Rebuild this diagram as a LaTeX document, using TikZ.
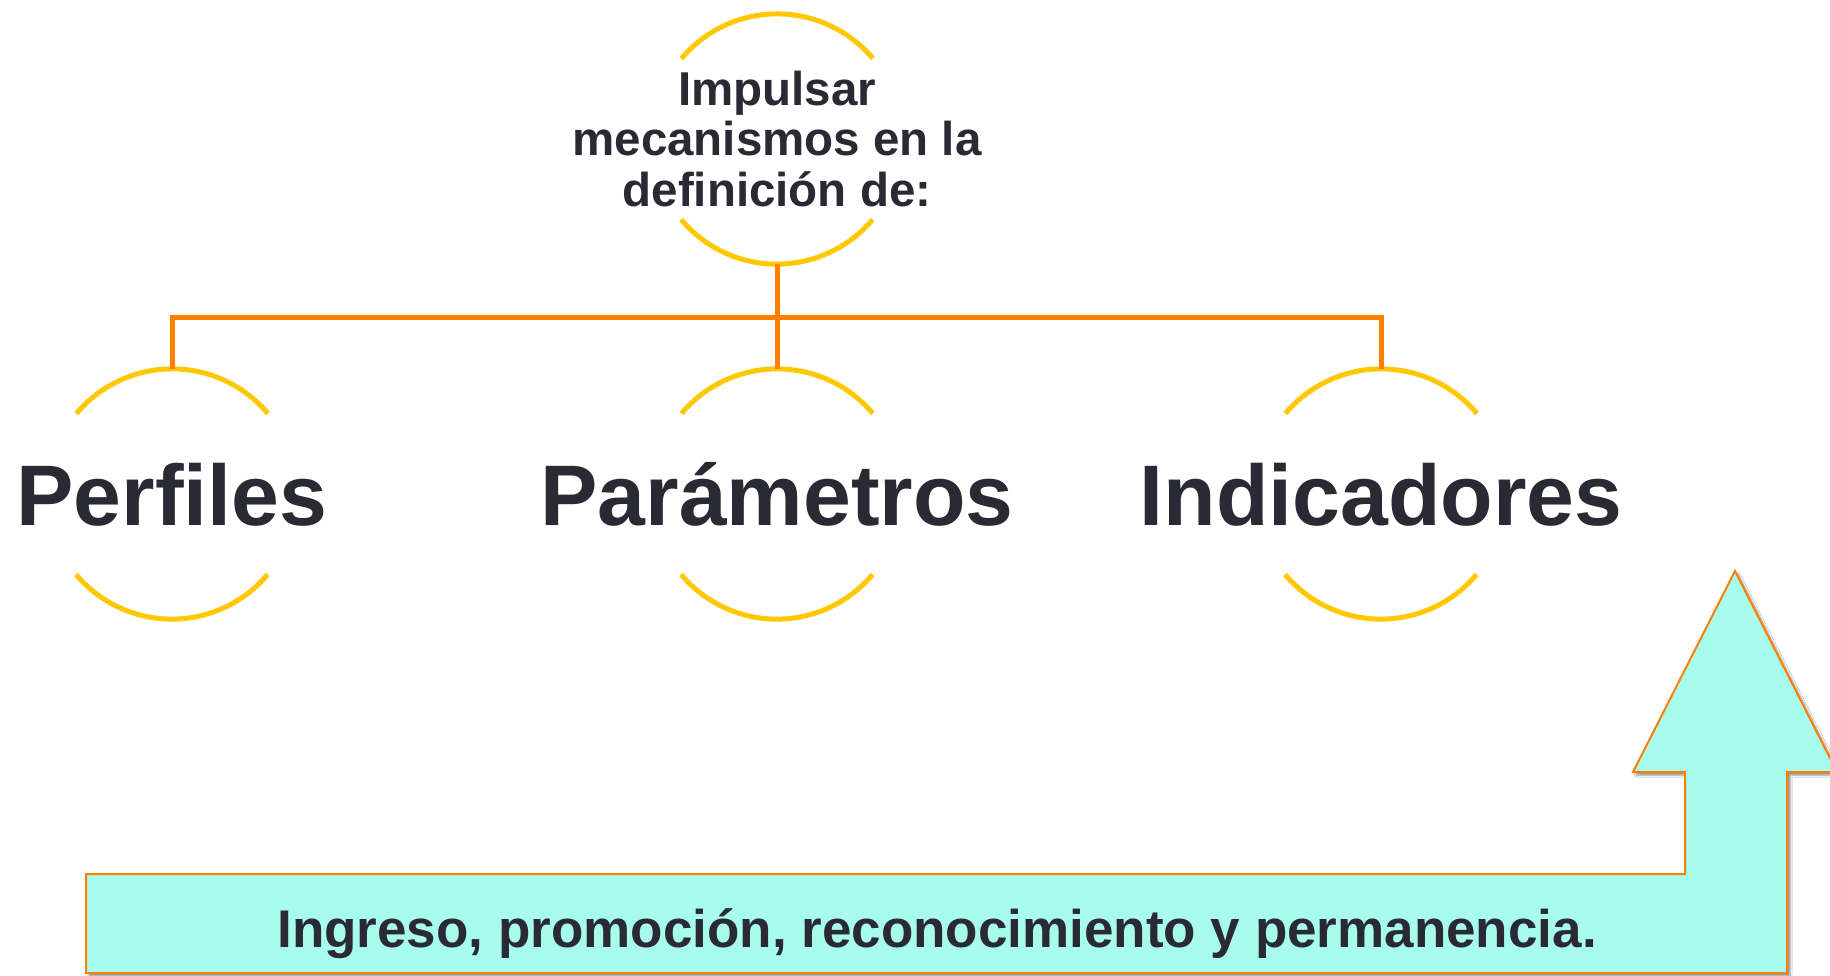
\documentclass[tikz,border=0pt]{standalone}
\usepackage{fontspec}
\setmainfont{Liberation Sans}
\usetikzlibrary{shadows.blur}
\definecolor{arcyellow}{HTML}{FFC800}
\definecolor{linkorange}{HTML}{FF8000}
\definecolor{txtdark}{HTML}{2A2A35}
\definecolor{arrowfill}{HTML}{A7FCEB}
\tikzset{
  ring/.style={circle, minimum size=250pt, inner sep=0pt, draw=none},
  arcline/.style={draw=arcyellow, line width=5pt},
  link/.style={draw=linkorange, line width=5pt},
  bigtext/.style={font=\fontsize{86}{90}\selectfont\bfseries, text=txtdark, anchor=base, inner sep=0pt},
  toptext/.style={font=\fontsize{47.5}{50.5}\selectfont\bfseries, text=txtdark, align=center, inner sep=0pt},
  bartext/.style={font=\fontsize{53}{56}\selectfont\bfseries, text=txtdark, anchor=base, inner sep=0pt},
  bentarrow/.style={fill=arrowfill, draw=linkorange, line width=2pt, line join=miter,
    blur shadow={shadow xshift=3pt, shadow yshift=-3pt, shadow blur steps=6, shadow blur radius=2pt, shadow opacity=45}}
}
\begin{document}
\begin{tikzpicture}[x=1pt,y=-1pt]
\clip (0,0) rectangle (1830,975);
\fill[white] (0,0) rectangle (1830,975);
% circles (invisible nodes) carrying arcs
\node[ring] (c0) at (777,139) {};
\node[ring] (c1) at (172,494) {};
\node[ring] (c2) at (777,494) {};
\node[ring] (c3) at (1381,494) {};
\foreach \c in {c0,c1,c2,c3}{
  \draw[arcline] (\c.40) arc[start angle=-40, end angle=-140, radius=125];
  \draw[arcline] (\c.220) arc[start angle=140, end angle=40, radius=125];
}
% connectors
\coordinate (hub) at (777,317);
\draw[link] (c0.south) -- (hub);
\draw[link] (c1.north) |- (hub) -| (c3.north);
\draw[link] (hub) -- (c2.north);
% texts
\node[toptext] (t0) at (c0.center) {Impulsar\\mecanismos en la\\definición de:};
\node[bigtext] (t1) at (172,525) {Perfiles};
\node[bigtext] (t2) at (777,525) {Parámetros};
\node[bigtext] (t3) at (1381,525) {Indicadores};
% bent-up arrow
\draw[bentarrow] (86,874) -- (1685,874) -- (1685,772) -- (1633,772) -- (1735,571)
  -- (1837,772) -- (1787,772) -- (1787,973) -- (86,973) -- cycle;
\node[bartext] (t4) at (937,947) {Ingreso, promoción, reconocimiento y permanencia.};
\end{tikzpicture}
\end{document}
